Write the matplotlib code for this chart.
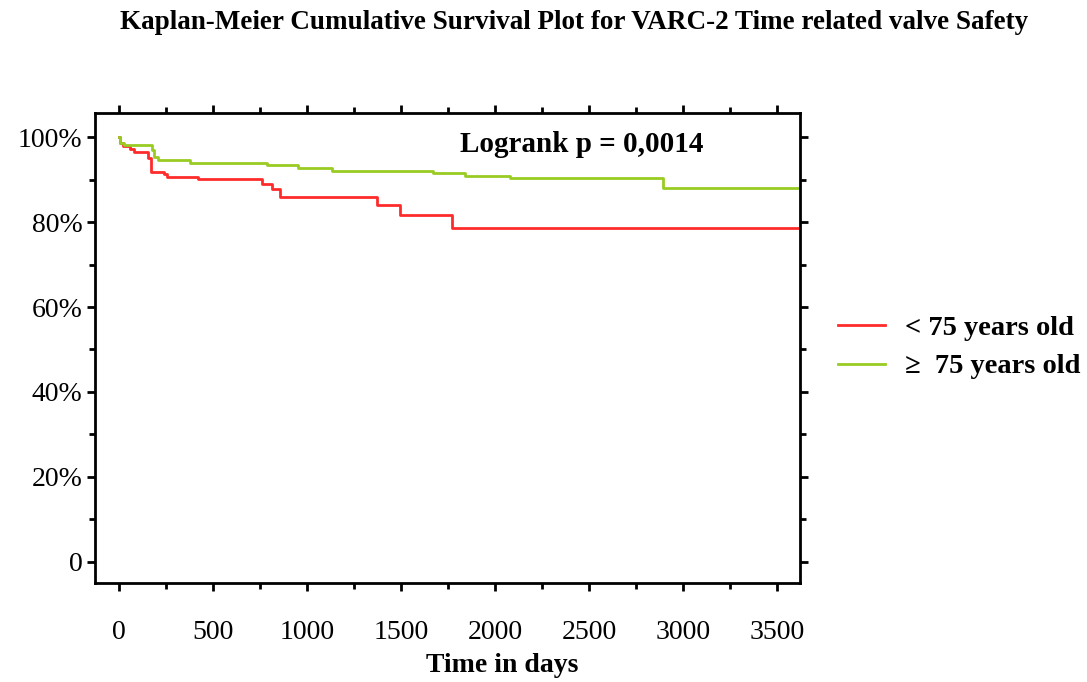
import matplotlib.pyplot as plt
from matplotlib.ticker import MultipleLocator, FuncFormatter

# survival steps (days, survival fraction)
young_days = [0, 8, 25, 60, 80, 155, 175, 240, 260, 425, 763, 816, 858, 1374, 1496, 1773, 3620]
young_surv = [1.0, 0.986, 0.979, 0.972, 0.965, 0.95, 0.918, 0.913, 0.906, 0.901, 0.89, 0.878, 0.86, 0.84, 0.817, 0.787, 0.787]

old_days = [0, 8, 30, 180, 190, 210, 380, 789, 954, 1135, 1672, 1842, 2081, 2895, 3620]
old_surv = [1.0, 0.986, 0.982, 0.97, 0.952, 0.946, 0.939, 0.934, 0.928, 0.921, 0.915, 0.909, 0.903, 0.88, 0.88]

labels = ["< 75 years old", "\u2265  75 years old"]
colors = ["#ff2b2b", "#99cc22"]

plt.rcParams["font.family"] = ["Liberation Serif", "DejaVu Serif"]

fig = plt.figure(figsize=(10.87, 6.82), dpi=100)
ax = fig.add_axes([0.0874, 0.1452, 0.6486, 0.6891])

ax.step(young_days, young_surv, where="post", color=colors[0], lw=2.0, label=labels[0])
ax.step(old_days, old_surv, where="post", color=colors[1], lw=2.0, label=labels[1])

ax.set_xlim(-125, 3622)
ax.set_ylim(-0.0494, 1.0565)

ax.xaxis.set_major_locator(MultipleLocator(500))
ax.xaxis.set_minor_locator(MultipleLocator(250))
ax.yaxis.set_major_locator(MultipleLocator(0.2))
ax.yaxis.set_minor_locator(MultipleLocator(0.1))
ax.yaxis.set_major_formatter(FuncFormatter(lambda v, p: "0" if abs(v) < 1e-9 else f"{v * 100:.0f}%"))

ax.tick_params(which="both", direction="out", top=True, right=True, width=2.0)
ax.tick_params(which="major", length=6)
ax.tick_params(which="minor", length=4)
ax.tick_params(axis="x", which="major", labelsize=20, pad=21)
ax.tick_params(axis="y", which="major", labelsize=20, pad=3)
for sp in ax.spines.values():
    sp.set_linewidth(2.0)

ax.set_xlabel("Time in days", fontsize=20, fontweight="bold")
ax.xaxis.set_label_coords(0.577, -0.148)

ax.text(0.691, 0.932, "Logrank p = 0,0014", transform=ax.transAxes,
        ha="center", va="center", fontsize=21, fontweight="bold")

fig.suptitle("Kaplan-Meier Cumulative Survival Plot for VARC-2 Time related valve Safety",
             x=0.528, y=0.985, fontsize=19.5, fontweight="bold")

fig.legend(loc="center left", bbox_to_anchor=(0.7474, 0.491), frameon=False,
           prop={"size": 20.5, "weight": "bold"}, handlelength=1.65, handletextpad=0.7,
           labelspacing=0.45)

fig.savefig("out.png", dpi=100)
